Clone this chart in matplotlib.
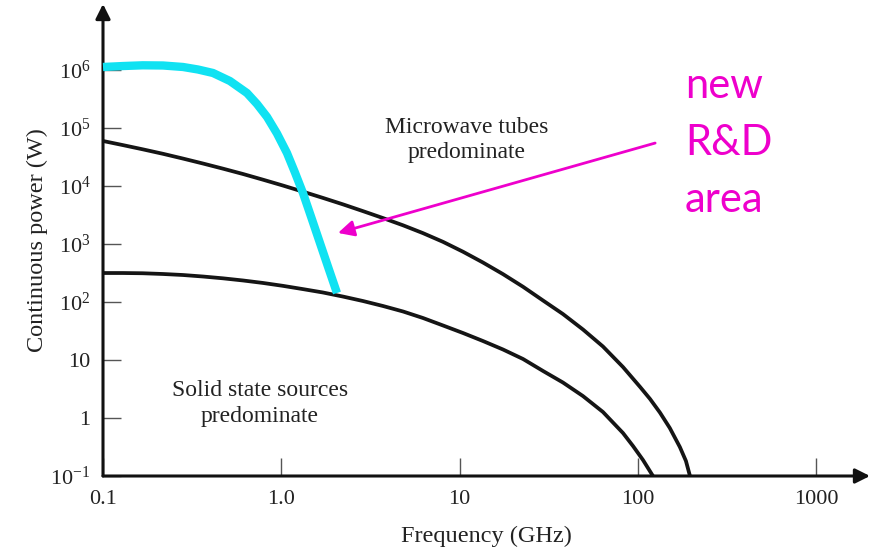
import matplotlib
matplotlib.use("Agg")
import matplotlib.pyplot as plt
from matplotlib.ticker import FixedLocator, NullLocator, FixedFormatter

plt.rcParams['font.family'] = ['Liberation Serif', 'DejaVu Serif']
plt.rcParams['mathtext.fontset'] = 'custom'
plt.rcParams['mathtext.rm'] = 'Liberation Serif'
plt.rcParams['mathtext.default'] = 'regular'

# ---- data ----
tube_f = [0.1, 0.129, 0.167, 0.217, 0.281, 0.364, 0.471, 0.610, 0.789, 1.02, 1.32, 1.71,
          2.22, 2.87, 3.72, 4.82, 6.23, 8.07, 10.45, 13.5, 17.5, 22.7, 29.4, 38.0, 49.2,
          63.7, 82.5, 103, 117, 133, 151, 172, 186, 196]
tube_p = [59700, 50800, 42900, 35900, 29700, 24400, 19900, 16100, 12850, 10200, 8000, 6240,
          4820, 3690, 2800, 2100, 1540, 1090, 736, 481, 303, 183, 106, 62, 33.6,
          17.1, 7.57, 3.42, 2.13, 1.24, 0.673, 0.316, 0.182, 0.1]

solid_f = [0.1, 0.129, 0.167, 0.217, 0.281, 0.364, 0.471, 0.610, 0.789, 1.02, 1.32, 1.71,
           2.22, 2.87, 3.72, 4.82, 6.23, 8.07, 10.45, 13.5, 17.5, 22.7, 29.4, 38.0, 49.2,
           63.7, 82.5, 93.9, 106.8, 121.5]
solid_p = [316, 316, 313, 304, 292, 275, 256, 235, 213, 190, 167, 146,
           124, 104, 85.3, 68.6, 53, 39.4, 29.2, 21.3, 15.2, 10.4, 6.46, 4.09, 2.39,
           1.27, 0.551, 0.329, 0.189, 0.1]

new_f = [0.1, 0.129, 0.167, 0.217, 0.281, 0.341, 0.414, 0.515, 0.642, 0.731, 0.832, 0.946,
         1.076, 1.193, 1.323, 1.477, 1.648, 1.839, 2.053]
new_p = [1.127e6, 1.17e6, 1.205e6, 1.196e6, 1.127e6, 1.02e6, 8.88e5, 6.46e5, 4.01e5, 2.59e5,
         1.55e5, 8.04e4, 3.71e4, 1.71e4, 7.57e3, 2.81e3, 1.04e3, 385, 143]

x_ticks = [0.1, 1.0, 10, 100, 1000]
x_labels = ['0.1', '1.0', '10', '100', '1000']
y_ticks = [1e6, 1e5, 1e4, 1e3, 1e2, 10, 1, 0.1]
y_labels = ['$10^6$', '$10^5$', '$10^4$', '$10^3$', '$10^2$', '10', '1', '$10^{-1}$']

W, H = 889, 550
fig = plt.figure(figsize=(W / 100, H / 100), dpi=100)
ax = fig.add_axes([103 / W, (H - 476) / H, (870 - 103) / W, (476 - 4) / H])
ax.set_xscale('log')
ax.set_yscale('log')
ax.set_xlim(0.1, 10 ** 3.302)
ax.set_ylim(0.1, 10 ** (-1 + 472 / 58))

ax.plot(tube_f, tube_p, color='#151515', lw=2.7, solid_capstyle='butt',
        solid_joinstyle='round', zorder=3)
ax.plot(solid_f, solid_p, color='#151515', lw=2.7, solid_capstyle='butt',
        solid_joinstyle='round', zorder=3)
ax.plot(new_f, new_p, color='#10E2F2', lw=6.0, solid_capstyle='butt',
        solid_joinstyle='round', zorder=4, clip_on=False)

for s in ax.spines.values():
    s.set_visible(False)
ax.annotate('', xy=(1, 0), xytext=(0, 0), xycoords='axes fraction',
            arrowprops=dict(arrowstyle='-|>', color='#111111', lw=2.2,
                            mutation_scale=22, shrinkA=0, shrinkB=0), annotation_clip=False)
ax.annotate('', xy=(0, 1), xytext=(0, 0), xycoords='axes fraction',
            arrowprops=dict(arrowstyle='-|>', color='#111111', lw=2.2,
                            mutation_scale=22, shrinkA=0, shrinkB=0), annotation_clip=False)

ax.xaxis.set_major_locator(FixedLocator(x_ticks))
ax.xaxis.set_major_formatter(FixedFormatter(x_labels))
ax.xaxis.set_minor_locator(NullLocator())
ax.yaxis.set_major_locator(FixedLocator(y_ticks))
ax.yaxis.set_major_formatter(FixedFormatter(y_labels))
ax.yaxis.set_minor_locator(NullLocator())
ax.tick_params(axis='both', direction='in', length=13, width=1, color='#555555',
               labelsize=16, labelcolor='#222222')
ax.tick_params(axis='x', pad=10)
ax.tick_params(axis='y', pad=9)

ax.set_xlabel('Frequency (GHz)', fontsize=17.5, color='#222222', labelpad=12)
ax.set_ylabel('Continuous power (W)', fontsize=17.5, color='#222222', labelpad=2)

ax.text(10.9, 6.2e4, 'Microwave tubes\npredominate', ha='center', va='center',
        fontsize=17, color='#222222', linespacing=1.3)
ax.text(0.76, 1.8, 'Solid state sources\npredominate', ha='center', va='center',
        fontsize=17, color='#222222', linespacing=1.3)

magenta = '#EE00CC'
ax.annotate('', xy=(2.08, 1550), xytext=(125, 5.5e4),
            arrowprops=dict(arrowstyle='-|>', color=magenta, lw=2.0,
                            mutation_scale=24, shrinkA=0, shrinkB=0))

for txt, yb in [('new', 98), ('R&D', 155), ('area', 212)]:
    fig.text(685 / W, 1 - yb / H, txt, ha='left', va='baseline',
             fontsize=30, color=magenta, family=['Lato', 'DejaVu Sans'])

fig.savefig('out.png', dpi=100)
